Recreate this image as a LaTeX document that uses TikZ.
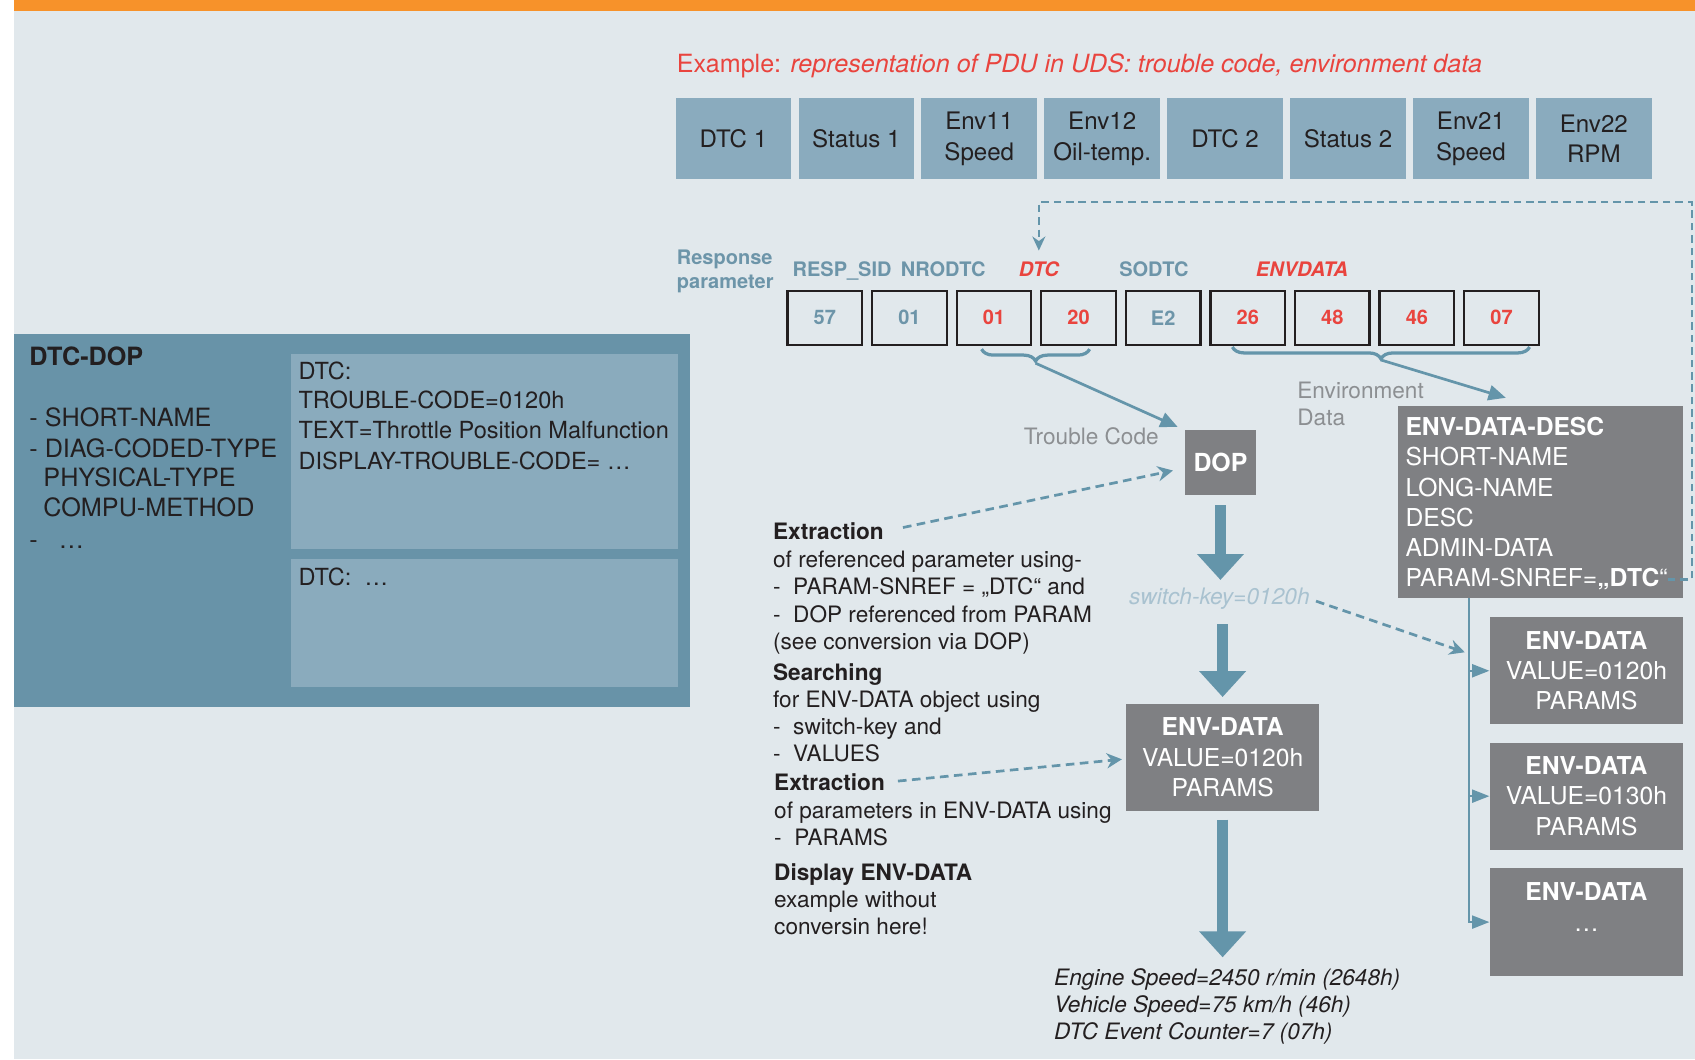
\documentclass[tikz,border=0pt]{standalone}
\usepackage{fontspec}
\setmainfont{TeX Gyre Heros}
\usetikzlibrary{arrows.meta,calc,decorations.pathreplacing}

\definecolor{bgc}{HTML}{E1E8EC}
\definecolor{orng}{HTML}{F7922A}
\definecolor{pdu}{HTML}{8AABBE}
\definecolor{dopdark}{HTML}{6893A8}
\definecolor{doplight}{HTML}{8AABBD}
\definecolor{grbox}{HTML}{7F8083}
\definecolor{link}{HTML}{6495AA}
\definecolor{hot}{HTML}{E9443E}
\definecolor{resp}{HTML}{6D95A9}
\definecolor{swk}{HTML}{A9C2D0}
\definecolor{ink}{HTML}{231F20}
\definecolor{note}{HTML}{8C8F92}

\newcommand{\fz}[2]{\fontsize{#1pt}{#2pt}\selectfont}

\begin{document}
\begin{tikzpicture}[x=1pt,y=-1pt,
  pdubox/.style={fill=pdu, minimum width=107pt, minimum height=75pt, inner sep=0pt,
    align=center, text=ink, font=\fz{22.3}{28}},
  bytebox/.style={draw=ink, line width=2.2pt, fill=bgc, minimum width=69pt,
    minimum height=50pt, inner sep=0pt, font=\fz{18.5}{22}\bfseries},
  resplbl/.style={inner sep=0pt, text=resp, font=\fz{18.5}{22}\bfseries},
  hotlbl/.style={inner sep=0pt, text=hot, font=\fz{18.5}{22}\bfseries\itshape},
  greybox/.style={fill=grbox, inner sep=0pt, text=white, align=center, font=\fz{22.8}{28}},
  line/.style={anchor=base west, inner sep=0pt},
  lefttxt/.style={line, text=ink, font=\fz{23.3}{28}},
  dtctxt/.style={line, text=ink, font=\fz{21.8}{28}},
  desctxt/.style={line, text=white, font=\fz{22.8}{28}},
  midtxt/.style={line, text=ink, font=\fz{20.9}{25}},
  notetxt/.style={line, text=note, font=\fz{20.9}{25}},
  outtxt/.style={line, text=ink, font=\fz{20.9}{25}\itshape},
  bigarrow/.style={draw=link, line width=10pt, -{Triangle[width=42pt,length=24pt]}},
  thinarrow/.style={draw=link, line width=2.5pt, -{Triangle[width=14pt,length=16pt]}},
  branch/.style={draw=link, line width=2pt, -{Triangle[width=12pt,length=16pt]}},
  dasharrow/.style={draw=link, line width=2.5pt, dash pattern=on 8pt off 5pt,
    -{Stealth[width=14pt,length=14pt]}},
  loopdash/.style={draw=link, line width=2.2pt, dash pattern=on 7pt off 4.5pt,
    -{Stealth[width=12pt,length=13pt]}},
  bracestyle/.style={draw=link, line width=3pt, decorate,
    decoration={brace, mirror, amplitude=11pt}},
]
\useasboundingbox (0,0) rectangle (1568,980);

% canvas
\fill[white] (0,0) rectangle (1568,980);
\fill[bgc] (13,0) rectangle (1568,980);
\fill[orng] (13,0) rectangle (1568,10);

% headline
\node[line, text=hot, font=\fz{23.2}{28}] (title) at (626,67.5)
  {Example: \textit{representation of PDU in UDS: trouble code, environment data}};

% PDU byte row
\foreach \lbl [count=\i from 0] in {{DTC 1},{Status 1},{Env11\\Speed},{Env12\\Oil-temp.},
    {DTC 2},{Status 2},{Env21\\Speed},{Env22\\RPM}}
  \node[pdubox] (pdu\i) at (678.5+113.7*\i,128.5) {\lbl};

% response parameter labels
\node[resplbl, anchor=base west] (resp1) at (626,244.7) {Response};
\node[resplbl, anchor=base west] (resp2) at (626,266.7) {parameter};
\node[resplbl, anchor=base] (lsid) at (779,255.7) {RESP\_SID};
\node[resplbl, anchor=base] (lnro) at (872.5,255.7) {NRODTC};
\node[hotlbl, anchor=base] (dtcl) at (961,255.7) {DTC};
\node[resplbl, anchor=base] (lsod) at (1067.5,255.7) {SODTC};
\node[hotlbl, anchor=base] (lenv) at (1204.5,255.7) {ENVDATA};

% response bytes
\foreach \v/\c [count=\i from 0] in {57/resp,01/resp,01/hot,20/hot,E2/resp,26/hot,48/hot,46/hot,07/hot}
  \node[bytebox, text=\c] (b\i) at (763+78.25*\i,294) {\v};

% braces grouping the bytes
\draw[bracestyle] (908,323) -- (1008,323);
\draw[bracestyle] (1140,321) -- (1415,321);
\coordinate (brT) at (958,336);
\coordinate (brE) at (1277.5,333);

% DOP
\node[greybox, minimum width=66pt, minimum height=60pt, font=\fz{23}{28}\bfseries] (dop) at (1129,428) {DOP};
\node[notetxt] (tclbl) at (947,411.5) {Trouble Code};
\node[notetxt] (envlbl1) at (1200,368.5) {Environment};
\node[notetxt] (envlbl2) at (1200,393.5) {Data};

% ENV-DATA-DESC
\node[greybox, anchor=north west, minimum width=264pt, minimum height=178pt] (desc) at (1293,375) {};
\node[desctxt] (dl0) at (1300,403) {\textbf{ENV-DATA-DESC}};
\node[desctxt] (dl1) at (1300,431) {SHORT-NAME};
\node[desctxt] (dl2) at (1300,459) {LONG-NAME};
\node[desctxt] (dl3) at (1300,487) {DESC};
\node[desctxt] (dl4) at (1300,515) {ADMIN-DATA};
\node[desctxt] (dl5) at (1300,543) {PARAM-SNREF=\textbf{„DTC}“};

% brace arrows
\draw[thinarrow, shorten >=7pt] (brT) -- (dop.north west);
\draw[thinarrow] (brE) -- ($(desc.north west)+(100,-7)$);

% reference loop back to the DTC parameter
\coordinate (loopTR) at (1565,187);
\draw[loopdash, shorten >=10pt] (dl5.east) -- (dl5.east -| loopTR) -- (loopTR) -- (loopTR -| dtcl) -- (dtcl.north);

% switch key and selected ENV-DATA
\node[inner sep=0pt, anchor=base, text=swk, font=\fz{21}{26}\itshape] (sw) at (1128,559.5) {switch-key=0120h};
\node[greybox, minimum width=178pt, minimum height=99pt] (envmid) at (1131,700.5)
  {\textbf{ENV-DATA}\\VALUE=0120h\\PARAMS};

\draw[bigarrow, shorten <=9pt, shorten >=7.5pt] (dop.south) -- (dop.south |- sw.north);
\draw[bigarrow, shorten <=13pt, shorten >=6pt] (envmid.north |- sw.south) -- (envmid.north);

% decoded output
\node[outtxt] (out1) at (975,911.4) {Engine Speed=2450 r/min (2648h)};
\node[outtxt] (out2) at (975,936.4) {Vehicle Speed=75 km/h (46h)};
\node[outtxt] (out3) at (975,961.4) {DTC Event Counter=7 (07h)};
\draw[bigarrow, shorten <=8pt, shorten >=10pt] (envmid.south) -- (envmid.south |- out1.north);

% ENV-DATA candidates
\node[greybox, minimum width=179pt, minimum height=99pt] (env1) at (1467.5,620.5)
  {\textbf{ENV-DATA}\\VALUE=0120h\\PARAMS};
\node[greybox, minimum width=179pt, minimum height=99pt] (env2) at (1467.5,736.5)
  {\textbf{ENV-DATA}\\VALUE=0130h\\PARAMS};
\node[greybox, minimum width=179pt, minimum height=100pt] (env3) at (1467.5,853)
  {\textbf{ENV-DATA}\\…\\~};

\coordinate (vl) at ($(desc.south west)+(66,0)$);
\draw[branch] (vl) |- (env3.west);
\draw[branch] (vl |- env1.west) -- (env1.west);
\draw[branch] (vl |- env2.west) -- (env2.west);
\coordinate (swtgt) at ($(vl)+(-4,50)$);
\draw[dasharrow, shorten <=6pt] (sw.east) -- (swtgt);

% processing steps
\node[midtxt] (ex1) at (715,499.4) {\textbf{Extraction}};
\node[midtxt] (m1) at (715,525.4) {of referenced parameter using-};
\node[midtxt] (m2) at (715,550.4) {-~~PARAM-SNREF = „DTC“ and};
\node[midtxt] (m3) at (715,575.4) {-~~DOP referenced from PARAM};
\node[midtxt] (m4) at (715,600.4) {(see conversion via DOP)};
\node[midtxt] (se) at (715,629.4) {\textbf{Searching}};
\node[midtxt] (m5) at (715,654.4) {for ENV-DATA object using};
\node[midtxt] (m6) at (715,679.4) {-~~switch-key and};
\node[midtxt] (m7) at (715,704.4) {-~~VALUES};
\node[midtxt] (ex2) at (716,731.4) {\textbf{Extraction}};
\node[midtxt] (m8) at (716,757.4) {of parameters in ENV-DATA using};
\node[midtxt] (m9) at (716,782.4) {-~~PARAMS};
\node[midtxt] (di) at (716,814.4) {\textbf{Display ENV-DATA}};
\node[midtxt] (m10) at (716,839.4) {example without};
\node[midtxt] (m11) at (716,864.4) {conversin here!};

\draw[dasharrow, shorten <=18pt, shorten >=11pt] (ex1.east) -- ([yshift=-5pt]dop.west);
\draw[dasharrow, shorten <=12pt, shorten >=4pt] (ex2.east) -- ([yshift=-1.5pt]envmid.west);

% DTC-DOP description
\node[fill=dopdark, anchor=north west, minimum width=625pt, minimum height=345pt, inner sep=0pt] (dopbox) at (13,309) {};
\node[fill=doplight, anchor=north west, minimum width=358pt, minimum height=181pt, inner sep=0pt] (dtcA) at (269,327) {};
\node[fill=doplight, anchor=north west, minimum width=358pt, minimum height=118pt, inner sep=0pt] (dtcB) at (269,517) {};

\node[lefttxt] (dd0) at (27,338) {\textbf{DTC-DOP}};
\node[lefttxt] (dd1) at (27,395) {- SHORT-NAME};
\node[lefttxt] (dd2) at (27,423) {- DIAG-CODED-TYPE};
\node[lefttxt] (dd3) at (40,450) {PHYSICAL-TYPE};
\node[lefttxt] (dd4) at (40,478) {COMPU-METHOD};
\node[lefttxt] (dd5) at (27,507) {-~~ …};

\node[dtctxt] (da0) at (276,351) {DTC:};
\node[dtctxt] (da1) at (276,378) {TROUBLE-CODE=0120h};
\node[dtctxt] (da2) at (276,406) {TEXT=Throttle Position Malfunction};
\node[dtctxt] (da3) at (276,434) {DISPLAY-TROUBLE-CODE= …};
\node[dtctxt] (db0) at (276,542) {DTC:~~…};
\end{tikzpicture}
\end{document}
